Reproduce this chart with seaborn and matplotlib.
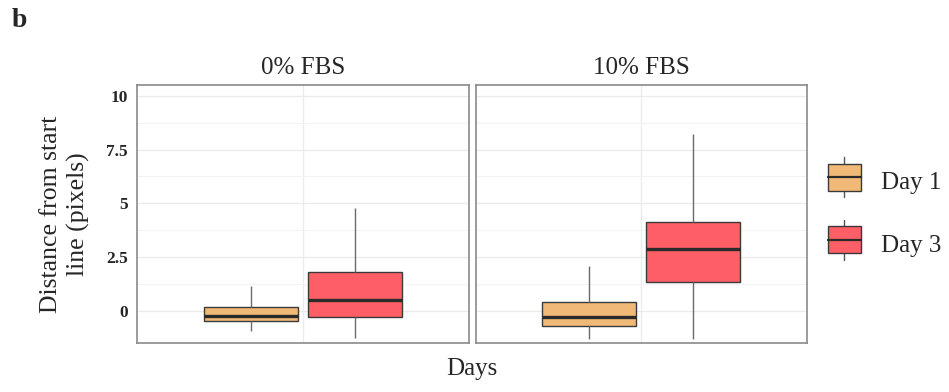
import matplotlib
matplotlib.use("Agg")
import matplotlib.pyplot as plt
from matplotlib.legend_handler import HandlerBase
from matplotlib.patches import Rectangle, Patch
from matplotlib.lines import Line2D
import seaborn as sns
import numpy as np
import pandas as pd

# five-number summaries (whisker low, Q1, median, Q3, whisker high)
panels = ["0% FBS", "10% FBS"]
days = ["Day 1", "Day 3"]
day1_fbs0 = [-0.93, -0.47, -0.23, 0.19, 1.16]
day3_fbs0 = [-1.26, -0.28, 0.51, 1.81, 4.79]
day1_fbs10 = [-1.30, -0.73, -0.28, 0.39, 2.06]
day3_fbs10 = [-1.30, 1.36, 2.87, 4.12, 8.23]
yticks = [0, 2.5, 5, 7.5, 10]
ytick_labels = ["0", "2.5", "5", "7.5", "10"]
colors = {"Day 1": "#F0B978", "Day 3": "#FE5F66"}

rows = []
for panel, d1, d3 in [(panels[0], day1_fbs0, day3_fbs0), (panels[1], day1_fbs10, day3_fbs10)]:
    for v in d1:
        rows.append({"serum": panel, "day": "Day 1", "x": "Days", "dist": v})
    for v in d3:
        rows.append({"serum": panel, "day": "Day 3", "x": "Days", "dist": v})
df = pd.DataFrame(rows)

sns.set_style("white")
plt.rcParams["font.family"] = ["Liberation Serif", "DejaVu Serif"]

fig, axes = plt.subplots(1, 2, figsize=(9.49, 3.92), dpi=100, sharey=True)
fig.subplots_adjust(left=0.1444, right=0.8504, top=0.783, bottom=0.125, wspace=0.021)

for ax, panel in zip(axes, panels):
    sub = df[df.serum == panel]
    sns.boxplot(data=sub, x="x", y="dist", hue="day", hue_order=days, palette=colors,
                saturation=1, whis=np.inf, gap=0.1, width=0.8, dodge=True, ax=ax, legend=False,
                linecolor="#3a3a3a", linewidth=1.0,
                boxprops=dict(edgecolor="#3a3a3a"),
                whiskerprops=dict(color="#6a6a6a", linewidth=1.0),
                capprops=dict(linewidth=0),
                medianprops=dict(color="#2a2a2a", linewidth=2.4))
    ax.set_xlim(-0.636, 0.636)
    ax.set_ylim(-1.5, 10.5)
    ax.set_yticks(yticks)
    ax.set_yticks([1.25, 3.75, 6.25, 8.75], minor=True)
    ax.set_axisbelow(True)
    ax.grid(True, which="major", color="#ebebeb", linewidth=1.0)
    ax.grid(True, which="minor", axis="y", color="#f3f3f3", linewidth=0.8)
    ax.set_xticks([0])
    ax.set_xticklabels([""])
    ax.set_xlabel("")
    ax.set_ylabel("")
    ax.set_title(panel, fontsize=18, pad=8)
    ax.tick_params(axis="both", which="major", length=3, color="#888888", width=0.8)
    ax.tick_params(axis="y", which="minor", length=0)
    for s in ax.spines.values():
        s.set_color("#8a8a8a")
        s.set_linewidth(1.2)

axes[0].set_yticklabels(ytick_labels, fontsize=12.5, fontweight="bold")
axes[1].tick_params(axis="y", length=0)
axes[0].set_ylabel("Distance from start\nline (pixels)", fontsize=18.5, labelpad=12, linespacing=1.25)
fig.text(0.497, 0.03, "Days", fontsize=18, ha="center", va="bottom")
fig.text(0.012, 0.915, "b", fontsize=20, fontweight="bold", ha="left", va="bottom")


class BoxKey(HandlerBase):
    def create_artists(self, legend, orig_handle, xd, yd, width, height, fontsize, trans):
        h = height * 1.3
        y0 = yd + (height - h) / 2
        rect = Rectangle((xd, y0), width, h, facecolor=orig_handle.get_facecolor(),
                         edgecolor="#3a3a3a", linewidth=1.0, transform=trans)
        mid = Line2D([xd, xd + width], [y0 + h / 2] * 2, color="#2a2a2a", lw=1.6, transform=trans)
        wt = Line2D([xd + width / 2] * 2, [y0 + h, y0 + h * 1.25], color="#555555", lw=1.0, transform=trans)
        wb = Line2D([xd + width / 2] * 2, [y0, y0 - h * 0.25], color="#555555", lw=1.0, transform=trans)
        return [wt, wb, rect, mid]


handles = [Patch(facecolor=colors[d]) for d in days]
fig.legend(handles, days, handler_map={Patch: BoxKey()}, loc="center left",
           bbox_to_anchor=(0.8725, 0.455), frameon=False, fontsize=18,
           borderpad=0, borderaxespad=0,
           handlelength=1.3, handleheight=0.9, labelspacing=1.55, handletextpad=0.8)

fig.savefig("out.png", dpi=100)
